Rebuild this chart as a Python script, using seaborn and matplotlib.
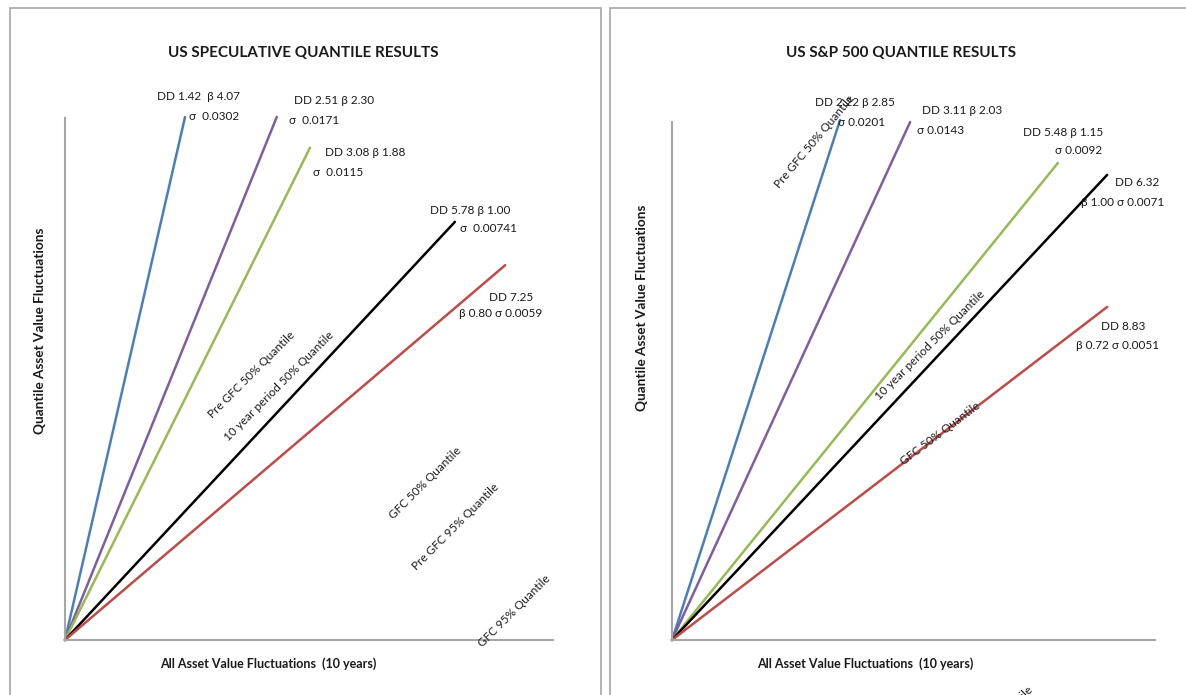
import matplotlib
matplotlib.use("Agg")
import matplotlib.pyplot as plt
import seaborn as sns
import pandas as pd
from matplotlib.patches import Rectangle

# quantile lines: end points (axis units 0-100), start at origin
series = ["Pre GFC 50%", "GFC 50%", "Pre GFC 95%", "10 year 50%", "GFC 95%"]
colors = ["#4a7ebb", "#7d5fa0", "#98b954", "#000000", "#be4b48"]

spec_x_end = [24.6, 43.4, 50.2, 79.9, 90.2]
spec_y_end = [100.2, 100.2, 94.3, 80.1, 71.8]
sp500_x_end = [34.8, 49.3, 79.9, 90.1, 90.1]
sp500_y_end = [100.4, 100.0, 92.1, 89.8, 64.3]

spec_stats = [("DD 1.42  β 4.07", "σ  0.0302"),
              ("DD 2.51 β 2.30", "σ  0.0171"),
              ("DD 3.08 β 1.88", "σ  0.0115"),
              ("DD 5.78 β 1.00", "σ  0.00741"),
              ("DD 7.25", "β 0.80 σ 0.0059")]
sp500_stats = [("DD 2.22 β 2.85", "σ 0.0201"),
               ("DD 3.11 β 2.03", "σ 0.0143"),
               ("DD 5.48 β 1.15", "σ 0.0092"),
               ("DD 6.32", "β 1.00 σ 0.0071"),
               ("DD 8.83", "β 0.72 σ 0.0051")]

spec_quantile_labels = ["Pre GFC 50% Quantile", "10 year period 50% Quantile",
                        "GFC 50% Quantile", "Pre GFC 95% Quantile", "GFC 95% Quantile"]
sp500_quantile_labels = ["Pre GFC 50% Quantile", "10 year period 50% Quantile",
                         "GFC 50% Quantile", "Pre GFC 95% Quantile"]

titles = ["US SPECULATIVE QUANTILE RESULTS", "US S&P 500 QUANTILE RESULTS"]
xlabel = "All Asset Value Fluctuations  (10 years)"
ylabel = "Quantile Asset Value Fluctuations"

sns.set_theme(style="white")
plt.rcParams['font.family'] = ['Lato', 'DejaVu Sans']

W, H = 1186, 695
fig = plt.figure(figsize=(W / 100, H / 100), dpi=100)


def fx(px):
    return px / W


def fy(py):
    return 1 - py / H


def ftext(px, py, s, **kw):
    fig.text(fx(px), fy(py), s, ha="center", va="center", **kw)


# panel frames
for x0, x1 in [(10, 601), (610, 1200)]:
    fig.patches.append(Rectangle((fx(x0), fy(710)), fx(x1) - fx(x0), fy(8) - fy(710),
                                 transform=fig.transFigure, fill=False,
                                 edgecolor="#a6a6a6", lw=1.2))


def panel(rect, xs, ys):
    ax = fig.add_axes(rect)
    df = pd.DataFrame({
        "x": [v for xe in xs for v in (0, xe)],
        "y": [v for ye in ys for v in (0, ye)],
        "s": [s for s in series for _ in range(2)],
    })
    sns.lineplot(data=df, x="x", y="y", hue="s", palette=colors, lw=1.8,
                 legend=False, ax=ax, clip_on=False, sort=False)
    ax.set_xlim(0, 100)
    ax.set_ylim(0, 100)
    ax.set_xticks([])
    ax.set_yticks([])
    ax.set_xlabel("")
    ax.set_ylabel("")
    for side in ["top", "right"]:
        ax.spines[side].set_visible(False)
    for side in ["left", "bottom"]:
        ax.spines[side].set_color("#a6a6a6")
        ax.spines[side].set_linewidth(1.5)
    ax.patch.set_alpha(0)
    return ax


panel([fx(65), fy(640), fx(553) - fx(65), fy(118) - fy(640)], spec_x_end, spec_y_end)
panel([fx(672), fy(640), fx(1155) - fx(672), fy(122) - fy(640)], sp500_x_end, sp500_y_end)

tkw = dict(fontsize=11, fontweight="bold", color="#1a1a1a")
ftext(303, 53, titles[0], **tkw)
ftext(901, 53, titles[1], **tkw)

akw = dict(fontweight="bold", color="#1a1a1a")
ftext(268, 664, xlabel, fontsize=9, **akw)
ftext(865, 664, xlabel, fontsize=9, **akw)
ftext(40, 331, ylabel, rotation=90, fontsize=9.8, **akw)
ftext(642, 308, ylabel, rotation=90, fontsize=9.8, **akw)

skw = dict(fontsize=8.5, color="#1a1a1a")
spec_pos = [((198, 97), (214, 116)), ((334, 100), (314, 120)), ((365, 153), (338, 172)),
            ((470, 211), (488, 229)), ((511, 297), (501, 314))]
for (l1, l2), (p1, p2) in zip(spec_stats, spec_pos):
    ftext(*p1, l1, **skw)
    ftext(*p2, l2, **skw)

sp_pos = [((855, 103), (862, 122)), ((962, 110), (941, 131)), ((1063, 132), (1079, 151)),
          ((1137, 183), (1123, 202)), ((1123, 326), (1118, 346))]
for (l1, l2), (p1, p2) in zip(sp500_stats, sp_pos):
    ftext(*p1, l1, **skw)
    ftext(*p2, l2, **skw)

qkw = dict(fontsize=8.5, color="#1a1a1a")
spec_q_pos = [(252, 375, 45), (279, 386, 45), (425, 483, 45), (456, 527, 45), (514, 611, 45)]
for s, (x, y, r) in zip(spec_quantile_labels, spec_q_pos):
    ftext(x, y, s, rotation=r, **qkw)

sp_q_pos = [(814, 142, 50), (930, 345, 45), (940, 434, 37), (990, 730, 45)]
for s, (x, y, r) in zip(sp500_quantile_labels, sp_q_pos):
    ftext(x, y, s, rotation=r, **qkw)

fig.savefig("out.png", dpi=100, facecolor="white")
